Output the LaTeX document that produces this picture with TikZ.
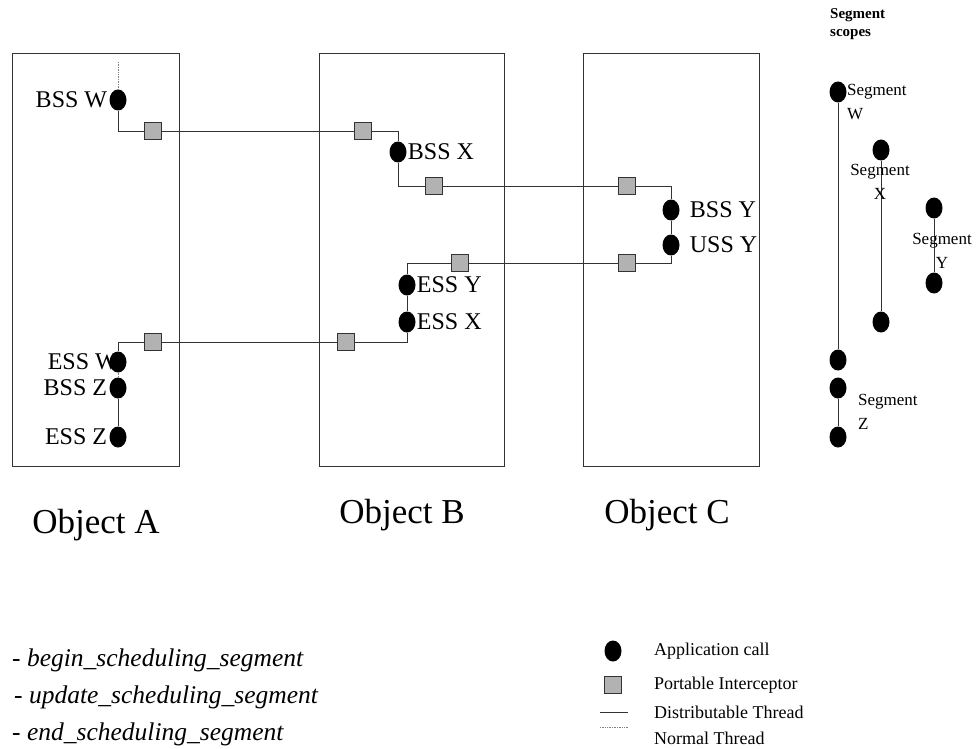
\documentclass[tikz,border=0pt]{standalone}
\usepackage{fontspec}
\setmainfont{Liberation Serif}
\usetikzlibrary{shapes.geometric,positioning}
\colorlet{call fill}{black}
\colorlet{pi fill}{gray!60}
\colorlet{edge}{black!80}
\tikzset{
  call/.style={ellipse, fill=call fill, minimum width=17pt, minimum height=21pt, inner sep=0pt},
  intercept/.style={rectangle, fill=pi fill, draw=edge, line width=0.8pt, minimum size=17pt, inner sep=0pt},
  thread/.style={draw=edge, line width=0.9pt},
  normal/.style={draw=gray, densely dotted, line width=0.7pt},
  objbox/.style={draw=edge, line width=0.9pt, inner sep=0pt},
  lbl/.style={font=\fontsize{24}{26}\selectfont, inner sep=0pt},
  objlbl/.style={font=\fontsize{35}{38}\selectfont, inner sep=0pt},
  seglbl/.style={font=\fontsize{17}{24}\selectfont, align=left, inner sep=0pt},
  legend/.style={font=\fontsize{18}{20}\selectfont, anchor=west, inner sep=0pt},
  op/.style={font=\fontsize{25.5}{27}\itshape\selectfont, anchor=west, inner sep=0pt}
}

\begin{document}
\begin{tikzpicture}[x=1pt, y=-1pt]
  \useasboundingbox (0,0) rectangle (980,749);

  % objects
  \node[objbox, minimum width=167pt, minimum height=413pt] (objA) at (95.5,259.5) {};
  \node[objbox, minimum width=185pt, minimum height=413pt] (objB) at (411.5,259.5) {};
  \node[objbox, minimum width=176pt, minimum height=413pt] (objC) at (671,259.5) {};
  \node[objlbl] (nameA) at (96,525) {Object A};
  \node[objlbl] (nameB) at (402,515) {Object B};
  \node[objlbl] (nameC) at (667,515) {Object C};

  % application calls
  \node[call] (bssw) at (118,100) {};
  \node[call] (essw) at (118,362) {};
  \node[call] (bssz) at (118,388) {};
  \node[call] (essz) at (118,437) {};
  \node[call] (bssx) at (398,152) {};
  \node[call] (essy) at (407,285) {};
  \node[call] (essx) at (407,322) {};
  \node[call] (bssy) at (671,210) {};
  \node[call] (ussy) at (671,245) {};

  \node[lbl, left=2pt of bssw] {BSS W};
  \node[lbl, anchor=east] at (essw.center) {ESS W};
  \node[lbl, left=2pt of bssz] {BSS Z};
  \node[lbl, left=2pt of essz] {ESS Z};
  \node[lbl, right=1pt of bssx] {BSS X};
  \node[lbl, right=1pt of essy] {ESS Y};
  \node[lbl, right=1pt of essx] {ESS X};
  \node[lbl, right=10pt of bssy] {BSS Y};
  \node[lbl, right=10pt of ussy] {USS Y};

  % portable interceptors
  \node[intercept] (pa1) at (153,131) {};
  \node[intercept] (pb1) at (363,131) {};
  \node[intercept] (pb2) at (434,186) {};
  \node[intercept] (pc1) at (627,186) {};
  \node[intercept] (pc2) at (627,263) {};
  \node[intercept] (pb3) at (460,263) {};
  \node[intercept] (pb4) at (346,342) {};
  \node[intercept] (pa2) at (153,342) {};

  % threads
  \coordinate (ntop) at (118,62);
  \draw[normal] (ntop) -- (bssw);
  \draw[thread] (bssw) |- (pa1) -- (pb1) -| (bssx);
  \draw[thread] (bssx) |- (pb2) -- (pc1) -| (bssy);
  \draw[thread] (bssy) -- (ussy) |- (pc2) -- (pb3) -| (essy);
  \draw[thread] (essy) -- (essx) |- (pb4) -- (pa2) -| (essw);
  \draw[normal] (essw) -- (bssz);
  \draw[thread] (bssz) -- (essz);

  % segment scopes
  \node[font=\fontsize{15}{18}\bfseries\selectfont, align=left, anchor=north west, inner sep=0pt]
    (scopes) at (830,8) {Segment\\scopes};
  \node[call] (sw1) at (838,92) {};
  \node[call] (sw2) at (838,360) {};
  \node[call] (sx1) at (881,150) {};
  \node[call] (sx2) at (881,322) {};
  \node[call] (sy1) at (934,208) {};
  \node[call] (sy2) at (934,283) {};
  \node[call] (sz1) at (838,388) {};
  \node[call] (sz2) at (838,437) {};
  \draw[thread] (sw1) -- (sw2);
  \draw[thread] (sx1) -- (sx2);
  \draw[thread] (sy1) -- (sy2);
  \draw[thread] (sz1) -- (sz2);
  \node[seglbl, anchor=north west] at (847,84) {Segment\\W};
  \node[seglbl, align=center] at (880,182) {Segment\\X};
  \node[seglbl, align=center] at (942,251) {Segment\\Y};
  \node[seglbl, anchor=north west] at (858,394) {Segment\\Z};

  % legend
  \node[call] (lcall) at (613,651) {};
  \node[intercept] (lpi) at (613,685) {};
  \coordinate (ldt1) at (600,712);
  \coordinate (ldt2) at (628,712);
  \coordinate (lnt1) at (600,727);
  \coordinate (lnt2) at (628,727);
  \draw[thread] (ldt1) -- (ldt2);
  \draw[normal] (lnt1) -- (lnt2);
  \node[legend] at (654,651) {Application call};
  \node[legend] at (654,685) {Portable Interceptor};
  \node[legend] at (654,712) {Distributable Thread};
  \node[legend] at (654,738) {Normal Thread};

  % operations
  \node[op] at (12,660) {- begin\_scheduling\_segment};
  \node[op] at (14,697) {- update\_scheduling\_segment};
  \node[op] at (12,734) {- end\_scheduling\_segment};
\end{tikzpicture}
\end{document}
